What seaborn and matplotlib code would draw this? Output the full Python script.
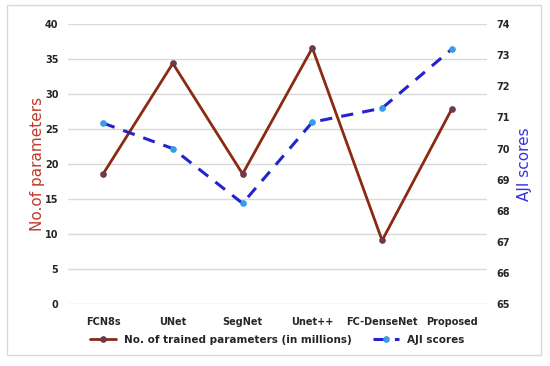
import seaborn as sns
import matplotlib.pyplot as plt
import pandas as pd

models = ["FCN8s", "UNet", "SegNet", "Unet++", "FC-DenseNet", "Proposed"]
params = [18.6, 34.4, 18.6, 36.6, 9.1, 27.9]
aji = [70.82, 70.0, 68.24, 70.85, 71.3, 73.2]

df = pd.DataFrame({"model": models, "params": params, "aji": aji})

sns.set_theme(style="white")
plt.rcParams["font.family"] = ["DejaVu Sans"]

fig = plt.figure(figsize=(5.5, 3.66), dpi=100)
ax = fig.add_axes([0.124, 0.169, 0.761, 0.765])
ax2 = ax.twinx()

sns.lineplot(data=df, x="model", y="params", ax=ax, color="#8B2A10", lw=2,
             marker="o", markersize=4, markerfacecolor="#6B3A4A",
             markeredgecolor="#6B3A4A", label="No. of trained parameters (in millions)",
             legend=False, sort=False)
sns.lineplot(data=df, x="model", y="aji", ax=ax2, color="#2323D0", lw=2.2,
             linestyle=(0, (4, 3)), marker="o", markersize=4,
             markerfacecolor="#3A9BE8", markeredgecolor="#3A9BE8",
             label="AJI scores", legend=False, sort=False)

ax.set_xlim(-0.5, 5.5)
ax.set_ylim(0, 40)
ax.set_yticks(range(0, 41, 5))
ax2.set_ylim(65, 74)
ax2.set_yticks(range(65, 75))

ax.yaxis.grid(True, color="#D9D9D9", lw=1)
ax.set_axisbelow(True)
for a in (ax, ax2):
    for s in a.spines.values():
        s.set_visible(False)
    a.tick_params(length=0, labelsize=7)
    for t in a.get_xticklabels() + a.get_yticklabels():
        t.set_fontweight("bold")
        t.set_color("#262626")
ax.tick_params(axis="y", pad=7)
ax2.tick_params(axis="y", pad=7)
ax.tick_params(axis="x", pad=9)

ax.set_xlabel("")
ax.set_ylabel("No.of parameters", color="#C0392B", fontsize=11, labelpad=0)
ax2.set_ylabel("AJI scores", color="#3434E0", fontsize=11, labelpad=5)

h1, l1 = ax.get_legend_handles_labels()
h2, l2 = ax2.get_legend_handles_labels()
leg = ax.legend(h1 + h2, l1 + l2, loc="upper center", bbox_to_anchor=(0.5, -0.075),
                ncol=2, frameon=False, prop={"size": 7.5, "weight": "bold"},
                handlelength=2.5, columnspacing=2)

fig.patches.append(plt.Rectangle((0.012, 0.03), 0.972, 0.955, transform=fig.transFigure,
                                 fill=False, edgecolor="#D9D9D9", lw=1))

fig.savefig("out.png", dpi=100)
